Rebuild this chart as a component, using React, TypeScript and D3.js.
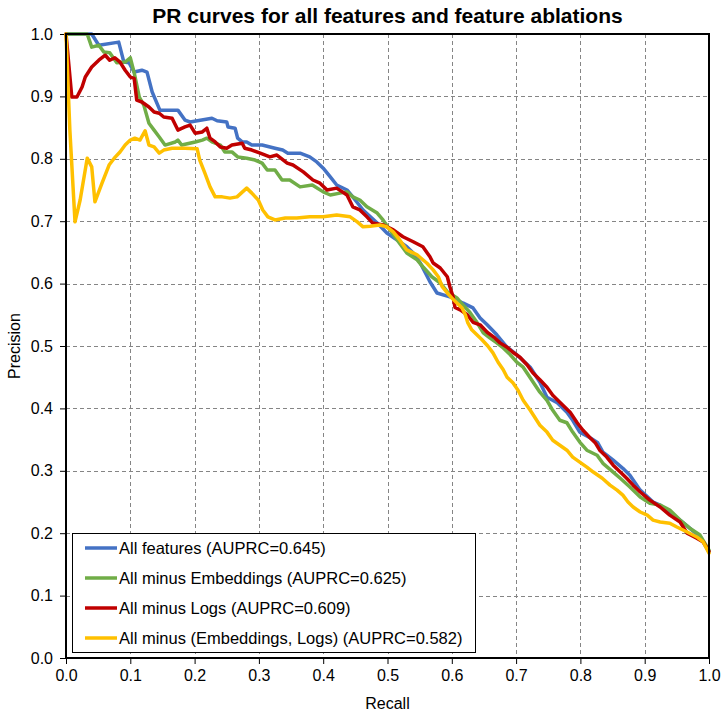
import * as d3 from "d3";
import { useEffect, useRef } from "react";

// [recall, precision] points
const allFeatures: [number, number][] = [
  [0, 1.0], [0.04, 1.0], [0.051, 0.982], [0.082, 0.987], [0.09, 0.955], [0.098, 0.954], [0.106, 0.939],
  [0.118, 0.942], [0.126, 0.939], [0.134, 0.907], [0.146, 0.878], [0.174, 0.878], [0.185, 0.862],
  [0.193, 0.859], [0.227, 0.865], [0.235, 0.861], [0.25, 0.859], [0.252, 0.851], [0.263, 0.849],
  [0.267, 0.833], [0.274, 0.827], [0.281, 0.827], [0.289, 0.822], [0.305, 0.822], [0.325, 0.817],
  [0.337, 0.814], [0.345, 0.809], [0.364, 0.809], [0.379, 0.803], [0.39, 0.795], [0.4, 0.785],
  [0.411, 0.771], [0.421, 0.758], [0.437, 0.75], [0.446, 0.739], [0.462, 0.718], [0.484, 0.697],
  [0.499, 0.681], [0.515, 0.67], [0.53, 0.659], [0.54, 0.649], [0.551, 0.633], [0.566, 0.603],
  [0.577, 0.585], [0.593, 0.58], [0.602, 0.577], [0.617, 0.569], [0.633, 0.561], [0.644, 0.545],
  [0.655, 0.534], [0.67, 0.518], [0.686, 0.498], [0.701, 0.486], [0.722, 0.466], [0.737, 0.442],
  [0.748, 0.418], [0.764, 0.409], [0.779, 0.394], [0.788, 0.381], [0.799, 0.362], [0.815, 0.353],
  [0.827, 0.345], [0.835, 0.33], [0.851, 0.317], [0.866, 0.304], [0.877, 0.293], [0.893, 0.269],
  [0.913, 0.25], [0.924, 0.245], [0.939, 0.232], [0.955, 0.221], [0.97, 0.208], [0.986, 0.194],
  [1.0, 0.17],
];

const minusEmbeddings: [number, number][] = [
  [0, 1.0], [0.033, 1.0], [0.04, 0.979], [0.051, 0.982], [0.059, 0.971], [0.068, 0.97], [0.079, 0.954],
  [0.092, 0.955], [0.1, 0.962], [0.106, 0.938], [0.114, 0.899], [0.121, 0.886], [0.129, 0.857],
  [0.137, 0.846], [0.145, 0.835], [0.154, 0.822], [0.17, 0.827], [0.174, 0.83], [0.18, 0.822],
  [0.201, 0.827], [0.212, 0.83], [0.219, 0.833], [0.227, 0.827], [0.24, 0.822], [0.247, 0.811],
  [0.258, 0.811], [0.267, 0.803], [0.281, 0.801], [0.294, 0.798], [0.305, 0.793], [0.313, 0.782],
  [0.325, 0.782], [0.336, 0.766], [0.348, 0.766], [0.364, 0.755], [0.383, 0.758], [0.4, 0.747],
  [0.411, 0.742], [0.426, 0.745], [0.437, 0.747], [0.446, 0.739], [0.457, 0.734], [0.468, 0.723],
  [0.484, 0.713], [0.493, 0.702], [0.504, 0.686], [0.515, 0.67], [0.53, 0.649], [0.546, 0.638],
  [0.555, 0.627], [0.569, 0.611], [0.582, 0.601], [0.593, 0.587], [0.608, 0.577], [0.617, 0.566],
  [0.628, 0.554], [0.639, 0.538], [0.649, 0.521], [0.659, 0.513], [0.67, 0.505], [0.68, 0.497],
  [0.691, 0.486], [0.701, 0.474], [0.711, 0.466], [0.737, 0.426], [0.748, 0.413], [0.757, 0.397],
  [0.768, 0.381], [0.779, 0.377], [0.788, 0.362], [0.799, 0.346], [0.81, 0.333], [0.826, 0.325],
  [0.835, 0.312], [0.851, 0.298], [0.862, 0.288], [0.877, 0.274], [0.893, 0.258], [0.908, 0.248],
  [0.924, 0.245], [0.939, 0.237], [0.955, 0.221], [0.97, 0.208], [0.986, 0.197], [1.0, 0.173],
];

const minusLogs: [number, number][] = [
  [0, 1.0], [0.009, 0.899], [0.017, 0.899], [0.025, 0.915], [0.03, 0.931], [0.04, 0.947], [0.051, 0.958],
  [0.061, 0.966], [0.068, 0.958], [0.076, 0.962], [0.084, 0.955], [0.092, 0.942], [0.1, 0.931],
  [0.106, 0.929], [0.11, 0.894], [0.118, 0.891], [0.129, 0.883], [0.137, 0.875], [0.145, 0.873],
  [0.152, 0.867], [0.165, 0.865], [0.174, 0.846], [0.185, 0.851], [0.193, 0.854], [0.201, 0.841],
  [0.212, 0.843], [0.219, 0.849], [0.224, 0.833], [0.232, 0.827], [0.24, 0.819], [0.25, 0.817],
  [0.258, 0.822], [0.274, 0.825], [0.278, 0.817], [0.289, 0.814], [0.302, 0.809], [0.317, 0.803],
  [0.328, 0.806], [0.344, 0.793], [0.353, 0.79], [0.369, 0.779], [0.384, 0.766], [0.395, 0.761],
  [0.406, 0.75], [0.421, 0.753], [0.437, 0.742], [0.446, 0.723], [0.457, 0.718], [0.468, 0.707],
  [0.477, 0.697], [0.493, 0.694], [0.509, 0.686], [0.524, 0.675], [0.54, 0.667], [0.555, 0.659],
  [0.566, 0.643], [0.571, 0.633], [0.582, 0.625], [0.593, 0.611], [0.597, 0.595], [0.602, 0.579],
  [0.605, 0.562], [0.613, 0.558], [0.624, 0.55], [0.633, 0.538], [0.644, 0.534], [0.655, 0.522],
  [0.667, 0.513], [0.675, 0.505], [0.686, 0.498], [0.695, 0.49], [0.706, 0.482], [0.717, 0.47],
  [0.726, 0.457], [0.737, 0.446], [0.748, 0.434], [0.757, 0.421], [0.768, 0.41], [0.784, 0.394],
  [0.795, 0.377], [0.804, 0.365], [0.815, 0.353], [0.823, 0.345], [0.83, 0.333], [0.841, 0.322],
  [0.851, 0.309], [0.862, 0.298], [0.872, 0.288], [0.882, 0.277], [0.893, 0.266], [0.908, 0.253],
  [0.924, 0.242], [0.939, 0.229], [0.955, 0.218], [0.966, 0.2], [0.981, 0.192], [0.991, 0.186],
  [1.0, 0.171],
];

const minusEmbLogs: [number, number][] = [
  [0, 1.0], [0.006, 0.846], [0.014, 0.699], [0.022, 0.734], [0.033, 0.801], [0.04, 0.787], [0.045, 0.731],
  [0.056, 0.761], [0.067, 0.79], [0.075, 0.801], [0.084, 0.811], [0.092, 0.822], [0.1, 0.83],
  [0.107, 0.833], [0.115, 0.83], [0.123, 0.845], [0.129, 0.822], [0.137, 0.819], [0.145, 0.809],
  [0.152, 0.814], [0.165, 0.817], [0.185, 0.817], [0.204, 0.816], [0.208, 0.798], [0.216, 0.777],
  [0.224, 0.755], [0.232, 0.739], [0.243, 0.739], [0.255, 0.737], [0.266, 0.739], [0.281, 0.753],
  [0.289, 0.745], [0.299, 0.734], [0.306, 0.718], [0.314, 0.707], [0.325, 0.702], [0.341, 0.705],
  [0.359, 0.705], [0.379, 0.707], [0.4, 0.707], [0.421, 0.71], [0.442, 0.707], [0.453, 0.699],
  [0.462, 0.691], [0.473, 0.692], [0.488, 0.694], [0.499, 0.691], [0.509, 0.683], [0.519, 0.67],
  [0.53, 0.654], [0.546, 0.646], [0.561, 0.633], [0.571, 0.622], [0.579, 0.611], [0.585, 0.595],
  [0.593, 0.585], [0.6, 0.577], [0.608, 0.569], [0.616, 0.561], [0.621, 0.55], [0.625, 0.537],
  [0.631, 0.526], [0.639, 0.518], [0.647, 0.51], [0.656, 0.5], [0.664, 0.489], [0.672, 0.474],
  [0.68, 0.462], [0.686, 0.45], [0.695, 0.441], [0.703, 0.429], [0.711, 0.413], [0.722, 0.397],
  [0.737, 0.373], [0.748, 0.362], [0.757, 0.349], [0.768, 0.341], [0.779, 0.333], [0.788, 0.322],
  [0.799, 0.314], [0.81, 0.306], [0.82, 0.298], [0.834, 0.288], [0.846, 0.277], [0.857, 0.269],
  [0.866, 0.261], [0.874, 0.25], [0.882, 0.242], [0.893, 0.234], [0.904, 0.229], [0.913, 0.221],
  [0.924, 0.218], [0.939, 0.216], [0.95, 0.21], [0.966, 0.202], [0.981, 0.194], [0.991, 0.186],
  [1.0, 0.168],
];

const seriesNames = [
  "All features (AUPRC=0.645)",
  "All minus Embeddings (AUPRC=0.625)",
  "All minus Logs (AUPRC=0.609)",
  "All minus (Embeddings, Logs) (AUPRC=0.582)",
];
const seriesColors = ["#4472C4", "#70AD47", "#C00000", "#FFC000"];
const seriesData = [allFeatures, minusEmbeddings, minusLogs, minusEmbLogs];
const tickValues = d3.range(0, 1.0001, 0.1);

const W = 721;
const H = 716;
const font = "'Liberation Sans', Arial, sans-serif";

const draw = (el: SVGSVGElement) => {
  const svg = d3.select(el);
  svg.selectAll("*").remove();

  const left = 66, right = 709, top = 34, bottom = 658;
  const x = d3.scaleLinear().domain([0, 1]).range([left, right]);
  const y = d3.scaleLinear().domain([0, 1]).range([bottom, top]);

  svg.append("rect").attr("width", W).attr("height", H).attr("fill", "#fff");

  // grid
  const grid = svg.append("g").attr("stroke", "#858585").attr("stroke-width", 1).attr("stroke-dasharray", "4,3");
  grid.selectAll("line.v")
    .data(tickValues.slice(1, -1))
    .join("line")
    .attr("x1", (d) => Math.round(x(d)) + 0.5)
    .attr("x2", (d) => Math.round(x(d)) + 0.5)
    .attr("y1", top)
    .attr("y2", bottom);
  grid.selectAll("line.h")
    .data(tickValues.slice(1, -1))
    .join("line")
    .attr("class", "h")
    .attr("y1", (d) => Math.round(y(d)) + 0.5)
    .attr("y2", (d) => Math.round(y(d)) + 0.5)
    .attr("x1", left)
    .attr("x2", right);

  // axes
  const xAxis = d3.axisBottom(x).tickValues(tickValues).tickFormat(d3.format(".1f")).tickSize(6).tickSizeOuter(0);
  const yAxis = d3.axisLeft(y).tickValues(tickValues).tickFormat(d3.format(".1f")).tickSize(6).tickSizeOuter(0);
  const gx = svg.append("g").attr("transform", `translate(0,${bottom})`).call(xAxis);
  const gy = svg.append("g").attr("transform", `translate(${left},0)`).call(yAxis);
  [gx, gy].forEach((g) => {
    g.select(".domain").remove();
    g.selectAll("line").attr("stroke", "#000").attr("stroke-width", 1);
    g.selectAll("text").attr("font-family", font).attr("font-size", 16).attr("fill", "#000");
  });
  gx.selectAll("text").attr("dy", "0.71em").attr("y", 12);
  gy.selectAll("text").attr("x", -13);

  // series
  const line = d3.line<[number, number]>().x((d) => x(d[0])).y((d) => y(d[1]));
  const plot = svg.append("g");
  seriesData.forEach((data, i) => {
    plot.append("path")
      .datum(data)
      .attr("d", line)
      .attr("fill", "none")
      .attr("stroke", seriesColors[i])
      .attr("stroke-width", 3.5)
      .attr("stroke-linejoin", "round")
      .attr("stroke-linecap", "round");
  });

  // frame
  svg.append("rect")
    .attr("x", left).attr("y", top)
    .attr("width", right - left).attr("height", bottom - top)
    .attr("fill", "none").attr("stroke", "#000").attr("stroke-width", 2);

  // legend
  const lg = svg.append("g").attr("transform", "translate(72,533)");
  lg.append("rect").attr("x", 0.5).attr("y", 0.5).attr("width", 403).attr("height", 119)
    .attr("fill", "#fff").attr("stroke", "#000").attr("stroke-width", 1);
  const rows = lg.selectAll("g.row").data(seriesNames).join("g")
    .attr("transform", (d, i) => `translate(0,${15 + i * 30})`);
  rows.append("line").attr("x1", 13).attr("x2", 45)
    .attr("stroke", (d, i) => seriesColors[i]).attr("stroke-width", 3.5);
  rows.append("text").attr("x", 47).attr("dy", "0.35em")
    .attr("font-family", font).attr("font-size", 16.5).attr("fill", "#000")
    .text((d) => d);

  // titles
  svg.append("text").attr("x", (left + right) / 2).attr("y", 23).attr("text-anchor", "middle")
    .attr("font-family", font).attr("font-size", 21).attr("font-weight", "bold")
    .text("PR curves for all features and feature ablations");
  svg.append("text").attr("x", (left + right) / 2).attr("y", 709).attr("text-anchor", "middle")
    .attr("font-family", font).attr("font-size", 16).text("Recall");
  svg.append("text").attr("transform", `translate(20,${(top + bottom) / 2}) rotate(-90)`)
    .attr("text-anchor", "middle").attr("font-family", font).attr("font-size", 16).text("Precision");
};

export default function App() {
  const ref = useRef<SVGSVGElement>(null);
  useEffect(() => {
    if (ref.current) draw(ref.current);
  }, []);
  return (
    <svg ref={ref} width={W} height={H} style={{ position: "absolute", left: 0, top: 0, display: "block" }} />
  );
}
